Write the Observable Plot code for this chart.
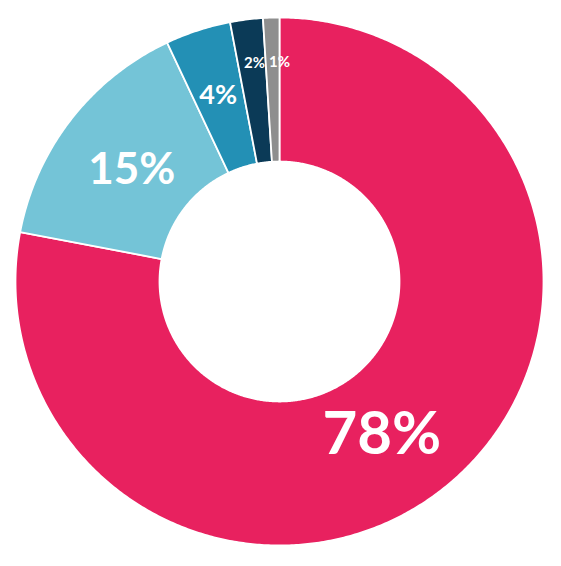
<!DOCTYPE html>
<html><head><meta charset="utf-8">
<script src="https://cdn.jsdelivr.net/npm/d3@7"></script>
<script src="https://cdn.jsdelivr.net/npm/@observablehq/plot@0.6"></script>
<style>html,body{margin:0;padding:0;background:#fff;} #chart svg{display:block}</style>
</head><body><div id="chart"></div>
<script>
const segments = ["Segment A", "Segment B", "Segment C", "Segment D", "Segment E"];
const values = [78, 15, 4, 2, 1];
const labels = ["78%", "15%", "4%", "2%", "1%"];
const colors = ["#E8215F", "#74C4D7", "#2390B5", "#0B3A57", "#8E8E8E"];

const INNER = 0.4545;
const total = d3.sum(values);
let acc = 0;
const slices = values.map((v, i) => {
  const a0 = acc / total * 2 * Math.PI; acc += v;
  const a1 = acc / total * 2 * Math.PI;
  return {segment: segments[i], label: labels[i], value: v, a0, a1};
});
const pts = [];
for (const s of slices) {
  const n = Math.max(2, Math.ceil((s.a1 - s.a0) / (Math.PI / 360)));
  for (let k = 0; k <= n; k++) { const a = s.a0 + (s.a1 - s.a0) * k / n; pts.push({segment: s.segment, x: Math.sin(a), y: Math.cos(a)}); }
  for (let k = n; k >= 0; k--) { const a = s.a0 + (s.a1 - s.a0) * k / n; pts.push({segment: s.segment, x: INNER * Math.sin(a), y: INNER * Math.cos(a)}); }
}
const mid = (1 + INNER) / 2;
const cent = slices.map(s => { const a = (s.a0 + s.a1) / 2; return {...s, x: mid * Math.sin(a), y: mid * Math.cos(a)}; });
const labelStyle = [
  {fontSize: 60, dx: -20, dy: 5},
  {fontSize: 44, dx: 4, dy: 6},
  {fontSize: 27, dx: -2, dy: -4},
  {fontSize: 15, dx: -1, dy: -28},
  {fontSize: 15, dx: 6, dy: -27}
];

const chart = Plot.plot({
  width: 561, height: 566,
  marginLeft: 15, marginRight: 18, marginTop: 17, marginBottom: 21,
  x: {domain: [-1, 1], axis: null},
  y: {domain: [-1, 1], axis: null},
  color: {domain: segments, range: colors},
  style: {background: "#fff"},
  marks: [
    Plot.line(pts, {x: "x", y: "y", z: "segment", fill: "segment", stroke: "white", strokeWidth: 1.8, strokeLinejoin: "round", curve: "linear-closed"}),
    ...cent.map((c, i) => Plot.text([c], {x: "x", y: "y", text: "label", fill: "white", fontWeight: 700, fontFamily: "Lato, sans-serif", ...labelStyle[i]}))
  ]
});
document.getElementById("chart").appendChild(chart);
</script>
</body></html>
